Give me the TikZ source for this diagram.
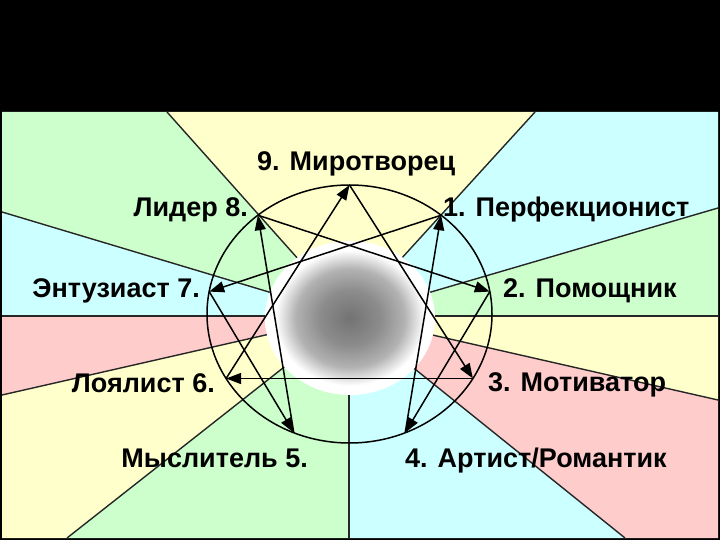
\documentclass[tikz,border=0pt]{standalone}
\usepackage{fontspec}
\setmainfont{Liberation Sans}
\usetikzlibrary{arrows.meta}
\definecolor{yel}{HTML}{FFFFCC}
\definecolor{cya}{HTML}{CCFFFF}
\definecolor{grn}{HTML}{CCFFCC}
\definecolor{pnk}{HTML}{FFCCCC}
\pgfdeclareradialshading{halo}{\pgfpoint{0bp}{0bp}}{color(0bp)=(black!55); color(9bp)=(black!45); color(16bp)=(black!30); color(20bp)=(black!10); color(22bp)=(white); color(25bp)=(white); color(50bp)=(white)}
\tikzset{
  sep/.style={line width=1.4pt, draw=black!85},
  rim/.style={line width=1.5pt, draw=black},
  link/.style={line width=1.5pt, draw=black, -{Triangle[length=15pt,width=11pt]}},
  lbl/.style={font=\fontsize{27}{30}\selectfont\bfseries, inner sep=0pt, text=black}
}
\begin{document}
\begin{tikzpicture}[x=1pt,y=-1pt]
\fill[black] (0,0) rectangle (720,540);
\useasboundingbox (0,0) rectangle (720,540);
\coordinate (O) at (349,316);
\begin{scope}
\clip (2,112) rectangle (718,538);
\fill[yel] (O) -- (167,112) -- (535,112) -- cycle;
\fill[cya] (O) -- (535,112) -- (718,112) -- (718,208) -- cycle;
\fill[grn] (O) -- (718,208) -- (718,316) -- cycle;
\fill[yel] (O) -- (718,316) -- (718,400) -- cycle;
\fill[pnk] (O) -- (718,400) -- (718,538) -- (625,538) -- cycle;
\fill[cya] (O) -- (625,538) -- (349,538) -- cycle;
\fill[grn] (O) -- (349,538) -- (67,538) -- cycle;
\fill[yel] (O) -- (67,538) -- (2,538) -- (2,395) -- cycle;
\fill[pnk] (O) -- (2,395) -- (2,316) -- cycle;
\fill[cya] (O) -- (2,316) -- (2,212) -- cycle;
\fill[grn] (O) -- (2,212) -- (2,112) -- (167,112) -- cycle;
\foreach \e in {(167,112),(535,112),(718,208),(718,316),(718,400),(625,538),(349,538),(67,538),(2,395),(2,316),(2,212)}
  \draw[sep] (O) -- \e;
\end{scope}
% central halo
\shade[shading=halo] (350,318) ellipse [x radius=85pt, y radius=77pt];
% enneagram circle
\draw[rim] (349.5,314) ellipse [x radius=142.5pt, y radius=129pt];
\coordinate (p9) at (349.5,185);
\coordinate (p1) at (441.1,215.2);
\coordinate (p2) at (489.8,291.6);
\coordinate (p3) at (472.9,378.5);
\coordinate (p4) at (405.2,432.7);
\coordinate (p5) at (293.8,432.7);
\coordinate (p6) at (226.1,378.5);
\coordinate (p7) at (209.2,291.6);
\coordinate (p8) at (257.9,215.2);
% triangle
\draw[link] (p9) -- (p3);
\draw[link] (p3) -- (p6);
\draw[link] (p6) -- (p9);
% hexad
\draw[link] (p1) -- (p7);
\draw[link] (p7) -- (p5);
\draw[link] (p5) -- (p8);
\draw[link] (p8) -- (p2);
\draw[link] (p2) -- (p4);
\draw[link] (p4) -- (p1);
% labels
\node[lbl, anchor=base west] (l9) at (257,171) {9. Миротворец};
\node[lbl, anchor=base east] (l8) at (248,217) {Лидер 8.};
\node[lbl, anchor=base west] (l1) at (443,217) {1. Перфекционист};
\node[lbl, anchor=base east] (l7) at (200,297) {Энтузиаст 7.};
\node[lbl, anchor=base west] (l2) at (503,297) {2. Помощник};
\node[lbl, anchor=base east] (l6) at (215,392) {Лоялист 6.};
\node[lbl, anchor=base west] (l3) at (488,391) {3. Мотиватор};
\node[lbl, anchor=base east] (l5) at (308,467) {Мыслитель 5.};
\node[lbl, anchor=base west] (l4) at (405,467) {4. Артист/Романтик};
\end{tikzpicture}
\end{document}
